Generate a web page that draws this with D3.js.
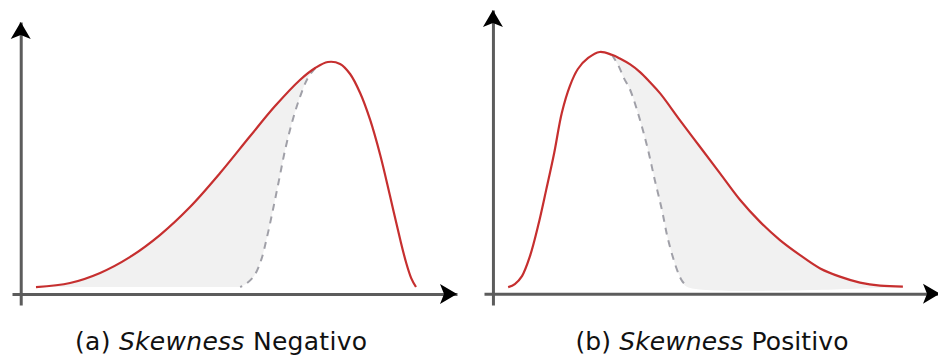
<!DOCTYPE html>
<html>
<head>
<meta charset="utf-8">
<script src="https://cdn.jsdelivr.net/npm/d3@7"></script>
<style>
  body { margin: 0; background: #fff; }
  svg { display: block; }
</style>
</head>
<body>
<svg id="chart" width="938" height="358"></svg>
<script>
// (a) negative skew: solid curve, and the dashed symmetric curve
var curveAx = [3.5, 11.3, 18.2, 25.0, 31.9, 38.8, 45.7, 52.6, 58.3, 64.0, 67.5, 70.4, 73.2, 75.5, 77.8, 80.1, 82.4, 84.6, 86.9, 88.3, 89.5, 90.6];
var curveAy = [2.6, 4.1, 7.8, 13.6, 21.7, 32.0, 44.5, 58.1, 69.1, 78.7, 83.1, 85.3, 84.6, 80.9, 73.9, 64.0, 51.1, 36.4, 20.6, 11.8, 5.9, 2.6];
var dashAx = [67.5, 65.8, 64.0, 62.2, 60.6, 59.2, 57.8, 56.4, 55.1, 53.5, 51.6, 50.3];
var dashAy = [83.1, 79.4, 72.4, 63.2, 53.0, 41.9, 30.9, 20.6, 12.5, 6.7, 3.7, 2.6];

// (b) positive skew
var curveBx = [3.4, 4.9, 6.5, 8.3, 10.1, 11.9, 13.7, 15.4, 17.2, 19.0, 21.3, 23.9, 26.6, 28.4, 30.7, 32.9, 35.1, 37.4, 41.8, 46.3, 50.8, 55.3, 59.7, 64.2, 68.7, 73.2, 77.6, 82.1, 86.6, 91.7];
var curveBy = [2.3, 3.4, 6.2, 13.3, 23.9, 36.5, 49.6, 63.7, 73.2, 79.2, 83.1, 85.2, 84.2, 82.9, 80.8, 78.1, 74.6, 70.6, 61.2, 51.8, 42.4, 33.0, 25.4, 18.9, 13.6, 8.9, 6.0, 3.9, 2.8, 2.5];
var dashBx = [26.6, 28.0, 29.3, 30.7, 32.9, 34.7, 36.2, 37.8, 39.2, 41.2, 42.3, 43.6];
var dashBy = [84.2, 80.6, 76.0, 71.8, 61.2, 50.6, 40.1, 29.5, 18.9, 8.3, 4.5, 2.3];

var captions = [["(a) ", "Skewness", " Negativo"], ["(b) ", "Skewness", " Positivo"]];

var svg = d3.select("#chart");

function pts(xs, ys) {
  return xs.map((x, i) => [x, ys[i]]);
}

function drawPanel(p) {
  var x = d3.scaleLinear().domain([-2, 100]).range(p.xRange);
  var y = d3.scaleLinear().domain([-4, 100]).range(p.yRange);
  var g = svg.append("g");

  var line = d3.line()
    .x(d => x(d[0]))
    .y(d => y(d[1]))
    .curve(d3.curveCatmullRom.alpha(0.5));

  // shaded area between the two curves
  g.append("path")
    .attr("d", line(p.fillPts) + "Z")
    .attr("fill", "#f1f1f1")
    .attr("stroke", "none");

  // axes, no ticks
  g.append("g")
    .attr("transform", `translate(0,${y(0)})`)
    .call(d3.axisBottom(x).tickValues([]).tickSizeOuter(0))
    .select(".domain")
    .attr("stroke", "#5c5c5c")
    .attr("stroke-width", 3);
  g.append("g")
    .attr("transform", `translate(${x(0)},0)`)
    .call(d3.axisLeft(y).tickValues([]).tickSizeOuter(0))
    .select(".domain")
    .attr("stroke", "#5c5c5c")
    .attr("stroke-width", 3);

  // arrow heads
  var head = "M0,0 L-17,-10 L-13,0 L-17,10 Z";
  g.append("path")
    .attr("d", head)
    .attr("transform", `translate(${x(100)},${y(0)})`)
    .attr("fill", "#000");
  g.append("path")
    .attr("d", head)
    .attr("transform", `translate(${x(0)},${y(100)}) rotate(-90)`)
    .attr("fill", "#000");

  g.append("path")
    .attr("d", line(p.dash))
    .attr("fill", "none")
    .attr("stroke", "#a0a0a8")
    .attr("stroke-width", 2)
    .attr("stroke-dasharray", "7,6");

  g.append("path")
    .attr("d", line(p.curve))
    .attr("fill", "none")
    .attr("stroke", "#c62f2f")
    .attr("stroke-width", 2.2);

  var t = svg.append("text")
    .attr("x", p.capX)
    .attr("y", 350)
    .attr("text-anchor", "middle")
    .attr("font-family", "'DejaVu Sans', sans-serif")
    .attr("font-size", 25)
    .attr("textLength", p.capW)
    .attr("lengthAdjust", "spacing")
    .attr("fill", "#111");
  t.append("tspan").text(p.caption[0]);
  t.append("tspan").attr("font-style", "italic").text(p.caption[1]);
  t.append("tspan").text(p.caption[2]);
}

var curveA = pts(curveAx, curveAy);
var dashA = pts(dashAx, dashAy);
var curveB = pts(curveBx, curveBy);
var dashB = pts(dashBx, dashBy);

drawPanel({
  xRange: [12, 457], yRange: [305, 22],
  curve: curveA, dash: dashA,
  fillPts: curveA.slice(0, 11).concat(dashA.slice(1)),
  caption: captions[0], capX: 221, capW: 292
});

drawPanel({
  xRange: [484, 940], yRange: [305, 10],
  curve: curveB, dash: dashB,
  fillPts: curveB.slice(12).concat(dashB.slice(1).reverse()),
  caption: captions[1], capX: 712, capW: 273
});
</script>
</body>
</html>
